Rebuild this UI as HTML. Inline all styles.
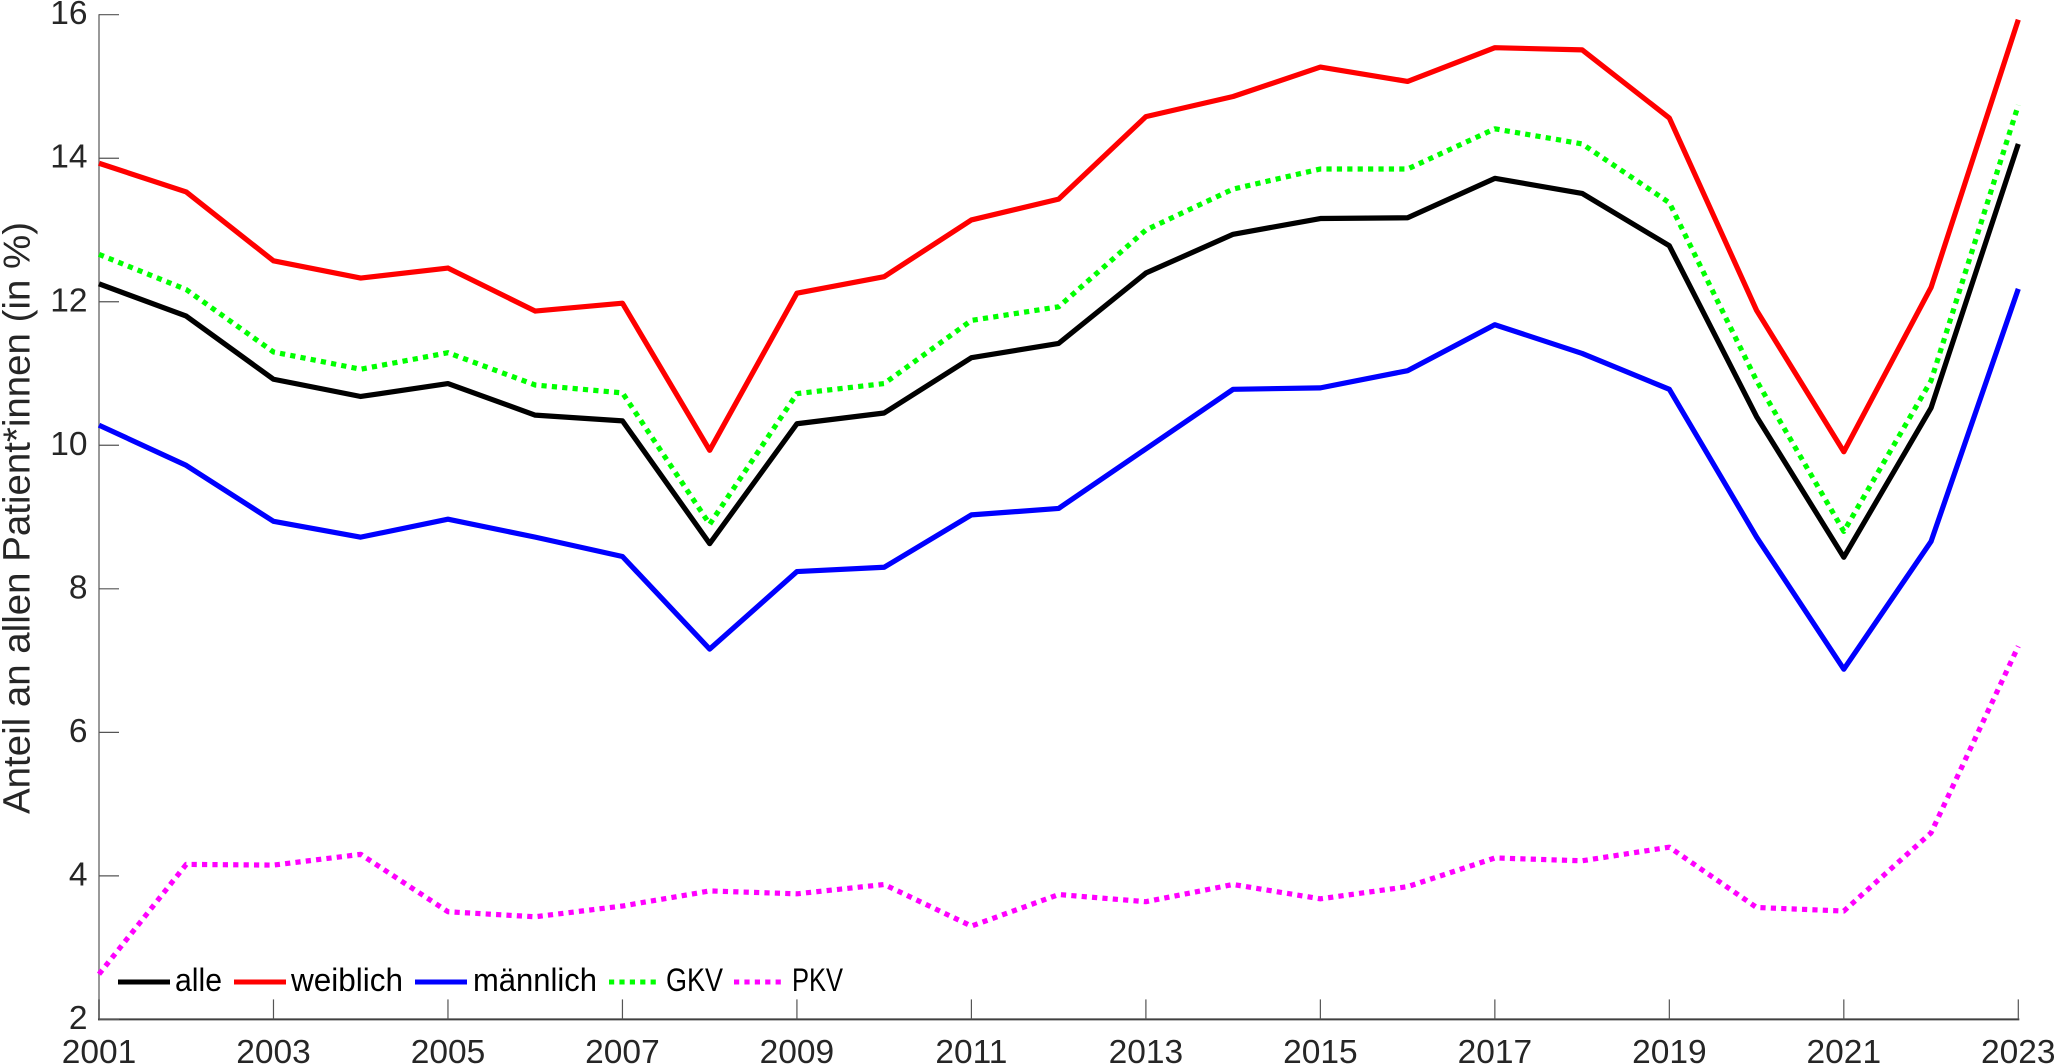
<!DOCTYPE html>
<html lang="de">
<head>
<meta charset="utf-8">
<title>Anteil an allen Patient*innen</title>
<style>
html,body{margin:0;padding:0;background:#fff;width:2055px;height:1064px;overflow:hidden}
svg{display:block;font-family:"Liberation Sans",sans-serif}
</style>
</head>
<body>
<svg id="chart" width="2055" height="1064" viewBox="0 0 2055 1064" xmlns="http://www.w3.org/2000/svg">
  <rect x="0" y="0" width="2055" height="1064" fill="#fff"/>
  <g id="axes"></g>
  <g id="series"></g>
  <text transform="translate(29.5 814) rotate(-90)" font-size="38" fill="#262626" textLength="592" lengthAdjust="spacingAndGlyphs">Anteil an allen Patient*innen (in %)</text>
  <g>
    <g>
      <line x1="118" x2="170" y1="982" y2="982" stroke="#000" stroke-width="5"/>
      <text x="175" y="991" font-size="32" fill="#000" textLength="47" lengthAdjust="spacingAndGlyphs">alle</text>
    </g>
    <g>
      <line x1="234" x2="286" y1="982" y2="982" stroke="#f00" stroke-width="5"/>
      <text x="291" y="991" font-size="32" fill="#000" textLength="112" lengthAdjust="spacingAndGlyphs">weiblich</text>
    </g>
    <g>
      <line x1="415" x2="467" y1="982" y2="982" stroke="#00f" stroke-width="5"/>
      <text x="473" y="991" font-size="32" fill="#000" textLength="124" lengthAdjust="spacingAndGlyphs">männlich</text>
    </g>
    <g>
      <line x1="609" x2="661" y1="982" y2="982" stroke="#0f0" stroke-width="5" stroke-dasharray="5.2 5.2"/>
      <text x="666" y="991" font-size="32" fill="#000" textLength="57" lengthAdjust="spacingAndGlyphs">GKV</text>
    </g>
    <g>
      <line x1="734" x2="786" y1="982" y2="982" stroke="#f0f" stroke-width="5" stroke-dasharray="5.2 5.2"/>
      <text x="792" y="991" font-size="32" fill="#000" textLength="51" lengthAdjust="spacingAndGlyphs">PKV</text>
    </g>
  </g>
</svg>
<script>
const years = [2001,2002,2003,2004,2005,2006,2007,2008,2009,2010,2011,2012,2013,2014,2015,2016,2017,2018,2019,2020,2021,2022,2023];
const alle = [12.25,11.8,10.92,10.68,10.86,10.42,10.34,8.63,10.3,10.45,11.22,11.42,12.4,12.94,13.16,13.17,13.72,13.51,12.78,10.4,8.44,10.52,14.2];
const weiblich = [13.93,13.53,12.57,12.33,12.47,11.87,11.98,9.93,12.12,12.35,13.14,13.43,14.58,14.86,15.27,15.07,15.54,15.51,14.56,11.88,9.91,12.2,15.93];
const maennlich = [10.28,9.72,8.94,8.72,8.97,8.72,8.45,7.16,8.24,8.3,9.03,9.12,9.95,10.78,10.8,11.04,11.68,11.28,10.78,8.72,6.88,8.66,12.18];
const gkv = [12.66,12.17,11.3,11.06,11.29,10.84,10.73,8.9,10.72,10.86,11.74,11.93,13.0,13.57,13.85,13.85,14.41,14.2,13.38,10.9,8.8,10.9,14.74];
const pkv = [2.63,4.16,4.15,4.3,3.5,3.43,3.58,3.79,3.75,3.88,3.3,3.74,3.64,3.88,3.68,3.85,4.25,4.21,4.4,3.56,3.51,4.6,7.2];
const xTickLabels = [2001,2003,2005,2007,2009,2011,2013,2015,2017,2019,2021,2023];
const yTickLabels = [2,4,6,8,10,12,14,16];

const NS = 'http://www.w3.org/2000/svg';
const X0 = 99, X1 = 2018.3, Y0 = 1019.4, Y1 = 14.7;
function xScale(year){ return X0 + (year - 2001) * (X1 - X0) / (2023 - 2001); }
function yScale(v){ return Y0 - (v - 2) * (Y0 - Y1) / (16 - 2); }
function make(tag, attrs, parent){
  const el = document.createElementNS(NS, tag);
  for (const k in attrs) el.setAttribute(k, attrs[k]);
  parent.appendChild(el);
  return el;
}
const axes = document.getElementById('axes');
const seriesGroup = document.getElementById('series');

const yAxisLine = make('line', {x1:X0, x2:X0, y1:Y1-0.5, y2:Y0+1, stroke:'#999', 'stroke-width':2}, axes);


const xAxisLine = make('line', {x1:X0-1, x2:X1+1, y1:Y0, y2:Y0, stroke:'#404040', 'stroke-width':2}, axes);



yTickLabels.forEach(function(v){
  const y = yScale(v);
  const tick = make('line', {x1:X0, x2:X0+20, y1:y, y2:y, stroke:'#555', 'stroke-width':1.2}, axes);
  
  
  const label = make('text', {x:87.5, y:y+9.5, 'text-anchor':'end', 'font-size':33.5, fill:'#262626'}, axes);
  
  
  label.textContent = v;
});
xTickLabels.forEach(function(yr){
  const x = xScale(yr);
  const tick = make('line', {x1:x, x2:x, y1:Y0, y2:Y0-20, stroke:'#555', 'stroke-width':1.2}, axes);
  
  
  const label = make('text', {x:x, y:1063, 'text-anchor':'middle', 'font-size':33.5, fill:'#262626'}, axes);
  
  
  label.textContent = yr;
});

function drawLine(values, color, dotted, name){
  const pts = values.map(function(v, i){ return xScale(years[i]).toFixed(2) + ',' + yScale(v).toFixed(2); }).join(' ');
  const attrs = {points:pts, fill:'none', stroke:color, 'stroke-width':5.2, 'stroke-linejoin':'round'};
  if (dotted) attrs['stroke-dasharray'] = '5.2 5.2';
  const line = make('polyline', attrs, seriesGroup);
  
  
}
drawLine(alle, '#000', false, 'line-alle');
drawLine(weiblich, '#f00', false, 'line-weiblich');
drawLine(maennlich, '#00f', false, 'line-maennlich');
drawLine(gkv, '#0f0', true, 'line-gkv');
drawLine(pkv, '#f0f', true, 'line-pkv');
</script>
</body>
</html>
